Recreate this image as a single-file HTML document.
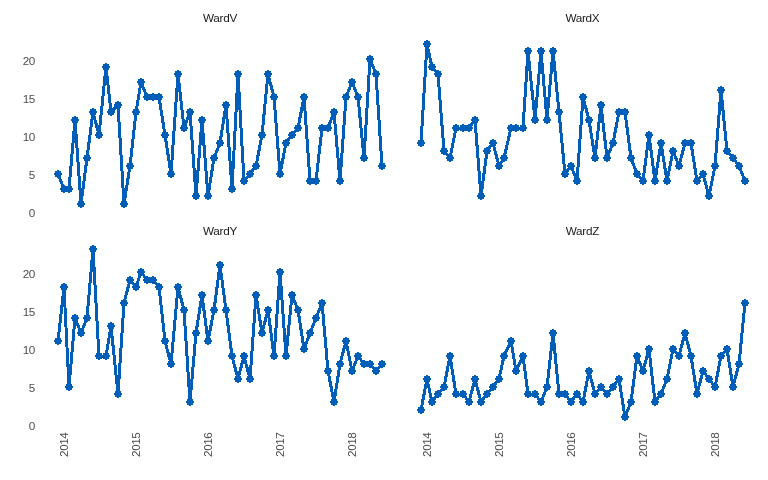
<!DOCTYPE html>
<html><head><meta charset="utf-8"><title>Ward run charts</title>
<style>
html,body{margin:0;padding:0;background:#fff;}
body{width:768px;height:480px;overflow:hidden;}
svg{display:block;}
text{font-family:"Liberation Sans",Arial,sans-serif;font-size:11.73px;}
.st{fill:#1a1a1a;letter-spacing:-0.3px;}
.ax{fill:#4d4d4d;letter-spacing:-0.45px;}
</style></head><body>
<svg width="768" height="480" viewBox="0 0 768 480">
<defs><path id="m" d="M-1-4h2v1h2v2h1v2h-1v2h-2v1h-2v-1h-2v-2h-1v-2h1v-2h2z"/></defs>
<rect width="768" height="480" fill="#fff"/>
<g shape-rendering="crispEdges" fill="none" stroke="#005EB8" stroke-width="3" stroke-linejoin="round" stroke-linecap="butt">
<polyline points="58,174 64,189 69,189 75,120 81,204 87,158 93,112 99,135 106,67 111,112 118,105 124,204 130,166 136,112 141,82 147,97 153,97 159,97 165,135 171,174 178,74 184,128 190,112 196,196 202,120 208,196 214,158 220,143 226,105 232,189 238,74 244,181 250,174 256,166 262,135 268,74 274,97 280,174 286,143 292,135 298,128 304,97 310,181 316,181 322,128 328,128 334,112 340,181 346,97 352,82 358,97 364,158 370,59 376,74 382,166"/>
<polyline points="421,143 427,44 432,67 438,74 444,151 450,158 456,128 463,128 469,128 475,120 481,196 487,151 493,143 499,166 504,158 511,128 516,128 523,128 528,51 535,120 541,51 547,120 553,51 559,112 565,174 571,166 577,181 583,97 589,120 595,158 601,105 607,158 613,143 619,112 625,112 631,158 637,174 643,181 649,135 655,181 661,143 667,181 673,151 679,166 685,143 691,143 697,181 703,174 709,196 715,166 721,90 727,151 733,158 739,166 745,181"/>
<polyline points="58,341 64,287 69,387 75,318 81,333 87,318 93,249 99,356 106,356 111,326 118,394 124,303 130,280 136,287 141,272 147,280 153,280 159,287 165,341 171,364 178,287 184,310 190,402 196,333 202,295 208,341 214,310 220,265 226,310 232,356 238,379 244,356 250,379 256,295 262,333 268,310 274,356 280,272 286,356 292,295 298,310 304,349 310,333 316,318 322,303 328,371 334,402 340,364 346,341 352,371 358,356 364,364 370,364 376,371 382,364"/>
<polyline points="421,410 427,379 432,402 438,394 444,387 450,356 456,394 463,394 469,402 475,379 481,402 487,394 493,387 499,379 504,356 511,341 516,371 523,356 528,394 535,394 541,402 547,387 553,333 559,394 565,394 571,402 577,394 583,402 589,371 595,394 601,387 607,394 613,387 619,379 625,417 631,402 637,356 643,371 649,349 655,402 661,394 667,379 673,349 679,356 685,333 691,356 697,394 703,371 709,379 715,387 721,356 727,349 733,387 739,364 745,303"/>
</g>
<g shape-rendering="crispEdges" fill="#005EB8">
<use href="#m" x="58" y="174"/><use href="#m" x="64" y="189"/><use href="#m" x="69" y="189"/><use href="#m" x="75" y="120"/><use href="#m" x="81" y="204"/><use href="#m" x="87" y="158"/><use href="#m" x="93" y="112"/><use href="#m" x="99" y="135"/><use href="#m" x="106" y="67"/><use href="#m" x="111" y="112"/><use href="#m" x="118" y="105"/><use href="#m" x="124" y="204"/><use href="#m" x="130" y="166"/><use href="#m" x="136" y="112"/><use href="#m" x="141" y="82"/><use href="#m" x="147" y="97"/><use href="#m" x="153" y="97"/><use href="#m" x="159" y="97"/><use href="#m" x="165" y="135"/><use href="#m" x="171" y="174"/><use href="#m" x="178" y="74"/><use href="#m" x="184" y="128"/><use href="#m" x="190" y="112"/><use href="#m" x="196" y="196"/><use href="#m" x="202" y="120"/><use href="#m" x="208" y="196"/><use href="#m" x="214" y="158"/><use href="#m" x="220" y="143"/><use href="#m" x="226" y="105"/><use href="#m" x="232" y="189"/><use href="#m" x="238" y="74"/><use href="#m" x="244" y="181"/><use href="#m" x="250" y="174"/><use href="#m" x="256" y="166"/><use href="#m" x="262" y="135"/><use href="#m" x="268" y="74"/><use href="#m" x="274" y="97"/><use href="#m" x="280" y="174"/><use href="#m" x="286" y="143"/><use href="#m" x="292" y="135"/><use href="#m" x="298" y="128"/><use href="#m" x="304" y="97"/><use href="#m" x="310" y="181"/><use href="#m" x="316" y="181"/><use href="#m" x="322" y="128"/><use href="#m" x="328" y="128"/><use href="#m" x="334" y="112"/><use href="#m" x="340" y="181"/><use href="#m" x="346" y="97"/><use href="#m" x="352" y="82"/><use href="#m" x="358" y="97"/><use href="#m" x="364" y="158"/><use href="#m" x="370" y="59"/><use href="#m" x="376" y="74"/><use href="#m" x="382" y="166"/>
<use href="#m" x="421" y="143"/><use href="#m" x="427" y="44"/><use href="#m" x="432" y="67"/><use href="#m" x="438" y="74"/><use href="#m" x="444" y="151"/><use href="#m" x="450" y="158"/><use href="#m" x="456" y="128"/><use href="#m" x="463" y="128"/><use href="#m" x="469" y="128"/><use href="#m" x="475" y="120"/><use href="#m" x="481" y="196"/><use href="#m" x="487" y="151"/><use href="#m" x="493" y="143"/><use href="#m" x="499" y="166"/><use href="#m" x="504" y="158"/><use href="#m" x="511" y="128"/><use href="#m" x="516" y="128"/><use href="#m" x="523" y="128"/><use href="#m" x="528" y="51"/><use href="#m" x="535" y="120"/><use href="#m" x="541" y="51"/><use href="#m" x="547" y="120"/><use href="#m" x="553" y="51"/><use href="#m" x="559" y="112"/><use href="#m" x="565" y="174"/><use href="#m" x="571" y="166"/><use href="#m" x="577" y="181"/><use href="#m" x="583" y="97"/><use href="#m" x="589" y="120"/><use href="#m" x="595" y="158"/><use href="#m" x="601" y="105"/><use href="#m" x="607" y="158"/><use href="#m" x="613" y="143"/><use href="#m" x="619" y="112"/><use href="#m" x="625" y="112"/><use href="#m" x="631" y="158"/><use href="#m" x="637" y="174"/><use href="#m" x="643" y="181"/><use href="#m" x="649" y="135"/><use href="#m" x="655" y="181"/><use href="#m" x="661" y="143"/><use href="#m" x="667" y="181"/><use href="#m" x="673" y="151"/><use href="#m" x="679" y="166"/><use href="#m" x="685" y="143"/><use href="#m" x="691" y="143"/><use href="#m" x="697" y="181"/><use href="#m" x="703" y="174"/><use href="#m" x="709" y="196"/><use href="#m" x="715" y="166"/><use href="#m" x="721" y="90"/><use href="#m" x="727" y="151"/><use href="#m" x="733" y="158"/><use href="#m" x="739" y="166"/><use href="#m" x="745" y="181"/>
<use href="#m" x="58" y="341"/><use href="#m" x="64" y="287"/><use href="#m" x="69" y="387"/><use href="#m" x="75" y="318"/><use href="#m" x="81" y="333"/><use href="#m" x="87" y="318"/><use href="#m" x="93" y="249"/><use href="#m" x="99" y="356"/><use href="#m" x="106" y="356"/><use href="#m" x="111" y="326"/><use href="#m" x="118" y="394"/><use href="#m" x="124" y="303"/><use href="#m" x="130" y="280"/><use href="#m" x="136" y="287"/><use href="#m" x="141" y="272"/><use href="#m" x="147" y="280"/><use href="#m" x="153" y="280"/><use href="#m" x="159" y="287"/><use href="#m" x="165" y="341"/><use href="#m" x="171" y="364"/><use href="#m" x="178" y="287"/><use href="#m" x="184" y="310"/><use href="#m" x="190" y="402"/><use href="#m" x="196" y="333"/><use href="#m" x="202" y="295"/><use href="#m" x="208" y="341"/><use href="#m" x="214" y="310"/><use href="#m" x="220" y="265"/><use href="#m" x="226" y="310"/><use href="#m" x="232" y="356"/><use href="#m" x="238" y="379"/><use href="#m" x="244" y="356"/><use href="#m" x="250" y="379"/><use href="#m" x="256" y="295"/><use href="#m" x="262" y="333"/><use href="#m" x="268" y="310"/><use href="#m" x="274" y="356"/><use href="#m" x="280" y="272"/><use href="#m" x="286" y="356"/><use href="#m" x="292" y="295"/><use href="#m" x="298" y="310"/><use href="#m" x="304" y="349"/><use href="#m" x="310" y="333"/><use href="#m" x="316" y="318"/><use href="#m" x="322" y="303"/><use href="#m" x="328" y="371"/><use href="#m" x="334" y="402"/><use href="#m" x="340" y="364"/><use href="#m" x="346" y="341"/><use href="#m" x="352" y="371"/><use href="#m" x="358" y="356"/><use href="#m" x="364" y="364"/><use href="#m" x="370" y="364"/><use href="#m" x="376" y="371"/><use href="#m" x="382" y="364"/>
<use href="#m" x="421" y="410"/><use href="#m" x="427" y="379"/><use href="#m" x="432" y="402"/><use href="#m" x="438" y="394"/><use href="#m" x="444" y="387"/><use href="#m" x="450" y="356"/><use href="#m" x="456" y="394"/><use href="#m" x="463" y="394"/><use href="#m" x="469" y="402"/><use href="#m" x="475" y="379"/><use href="#m" x="481" y="402"/><use href="#m" x="487" y="394"/><use href="#m" x="493" y="387"/><use href="#m" x="499" y="379"/><use href="#m" x="504" y="356"/><use href="#m" x="511" y="341"/><use href="#m" x="516" y="371"/><use href="#m" x="523" y="356"/><use href="#m" x="528" y="394"/><use href="#m" x="535" y="394"/><use href="#m" x="541" y="402"/><use href="#m" x="547" y="387"/><use href="#m" x="553" y="333"/><use href="#m" x="559" y="394"/><use href="#m" x="565" y="394"/><use href="#m" x="571" y="402"/><use href="#m" x="577" y="394"/><use href="#m" x="583" y="402"/><use href="#m" x="589" y="371"/><use href="#m" x="595" y="394"/><use href="#m" x="601" y="387"/><use href="#m" x="607" y="394"/><use href="#m" x="613" y="387"/><use href="#m" x="619" y="379"/><use href="#m" x="625" y="417"/><use href="#m" x="631" y="402"/><use href="#m" x="637" y="356"/><use href="#m" x="643" y="371"/><use href="#m" x="649" y="349"/><use href="#m" x="655" y="402"/><use href="#m" x="661" y="394"/><use href="#m" x="667" y="379"/><use href="#m" x="673" y="349"/><use href="#m" x="679" y="356"/><use href="#m" x="685" y="333"/><use href="#m" x="691" y="356"/><use href="#m" x="697" y="394"/><use href="#m" x="703" y="371"/><use href="#m" x="709" y="379"/><use href="#m" x="715" y="387"/><use href="#m" x="721" y="356"/><use href="#m" x="727" y="349"/><use href="#m" x="733" y="387"/><use href="#m" x="739" y="364"/><use href="#m" x="745" y="303"/>
</g>
<text class="st" x="220.0" y="22.1" text-anchor="middle">WardV</text>
<text class="st" x="582.4" y="22.1" text-anchor="middle">WardX</text>
<text class="st" x="220.0" y="235.2" text-anchor="middle">WardY</text>
<text class="st" x="582.4" y="235.2" text-anchor="middle">WardZ</text>
<text class="ax" x="34.9" y="217.0" text-anchor="end">0</text>
<text class="ax" x="34.9" y="179.0" text-anchor="end">5</text>
<text class="ax" x="34.9" y="141.0" text-anchor="end">10</text>
<text class="ax" x="34.9" y="103.0" text-anchor="end">15</text>
<text class="ax" x="34.9" y="65.0" text-anchor="end">20</text>
<text class="ax" x="34.9" y="430.1" text-anchor="end">0</text>
<text class="ax" x="34.9" y="392.1" text-anchor="end">5</text>
<text class="ax" x="34.9" y="354.1" text-anchor="end">10</text>
<text class="ax" x="34.9" y="316.1" text-anchor="end">15</text>
<text class="ax" x="34.9" y="278.1" text-anchor="end">20</text>
<text class="ax" transform="translate(67.7,432.6) rotate(-90)" text-anchor="end">2014</text>
<text class="ax" transform="translate(139.7,432.6) rotate(-90)" text-anchor="end">2015</text>
<text class="ax" transform="translate(211.7,432.6) rotate(-90)" text-anchor="end">2016</text>
<text class="ax" transform="translate(283.7,432.6) rotate(-90)" text-anchor="end">2017</text>
<text class="ax" transform="translate(355.7,432.6) rotate(-90)" text-anchor="end">2018</text>
<text class="ax" transform="translate(430.8,432.6) rotate(-90)" text-anchor="end">2014</text>
<text class="ax" transform="translate(502.8,432.6) rotate(-90)" text-anchor="end">2015</text>
<text class="ax" transform="translate(574.8,432.6) rotate(-90)" text-anchor="end">2016</text>
<text class="ax" transform="translate(646.8,432.6) rotate(-90)" text-anchor="end">2017</text>
<text class="ax" transform="translate(718.8,432.6) rotate(-90)" text-anchor="end">2018</text>
</svg>
</body></html>
